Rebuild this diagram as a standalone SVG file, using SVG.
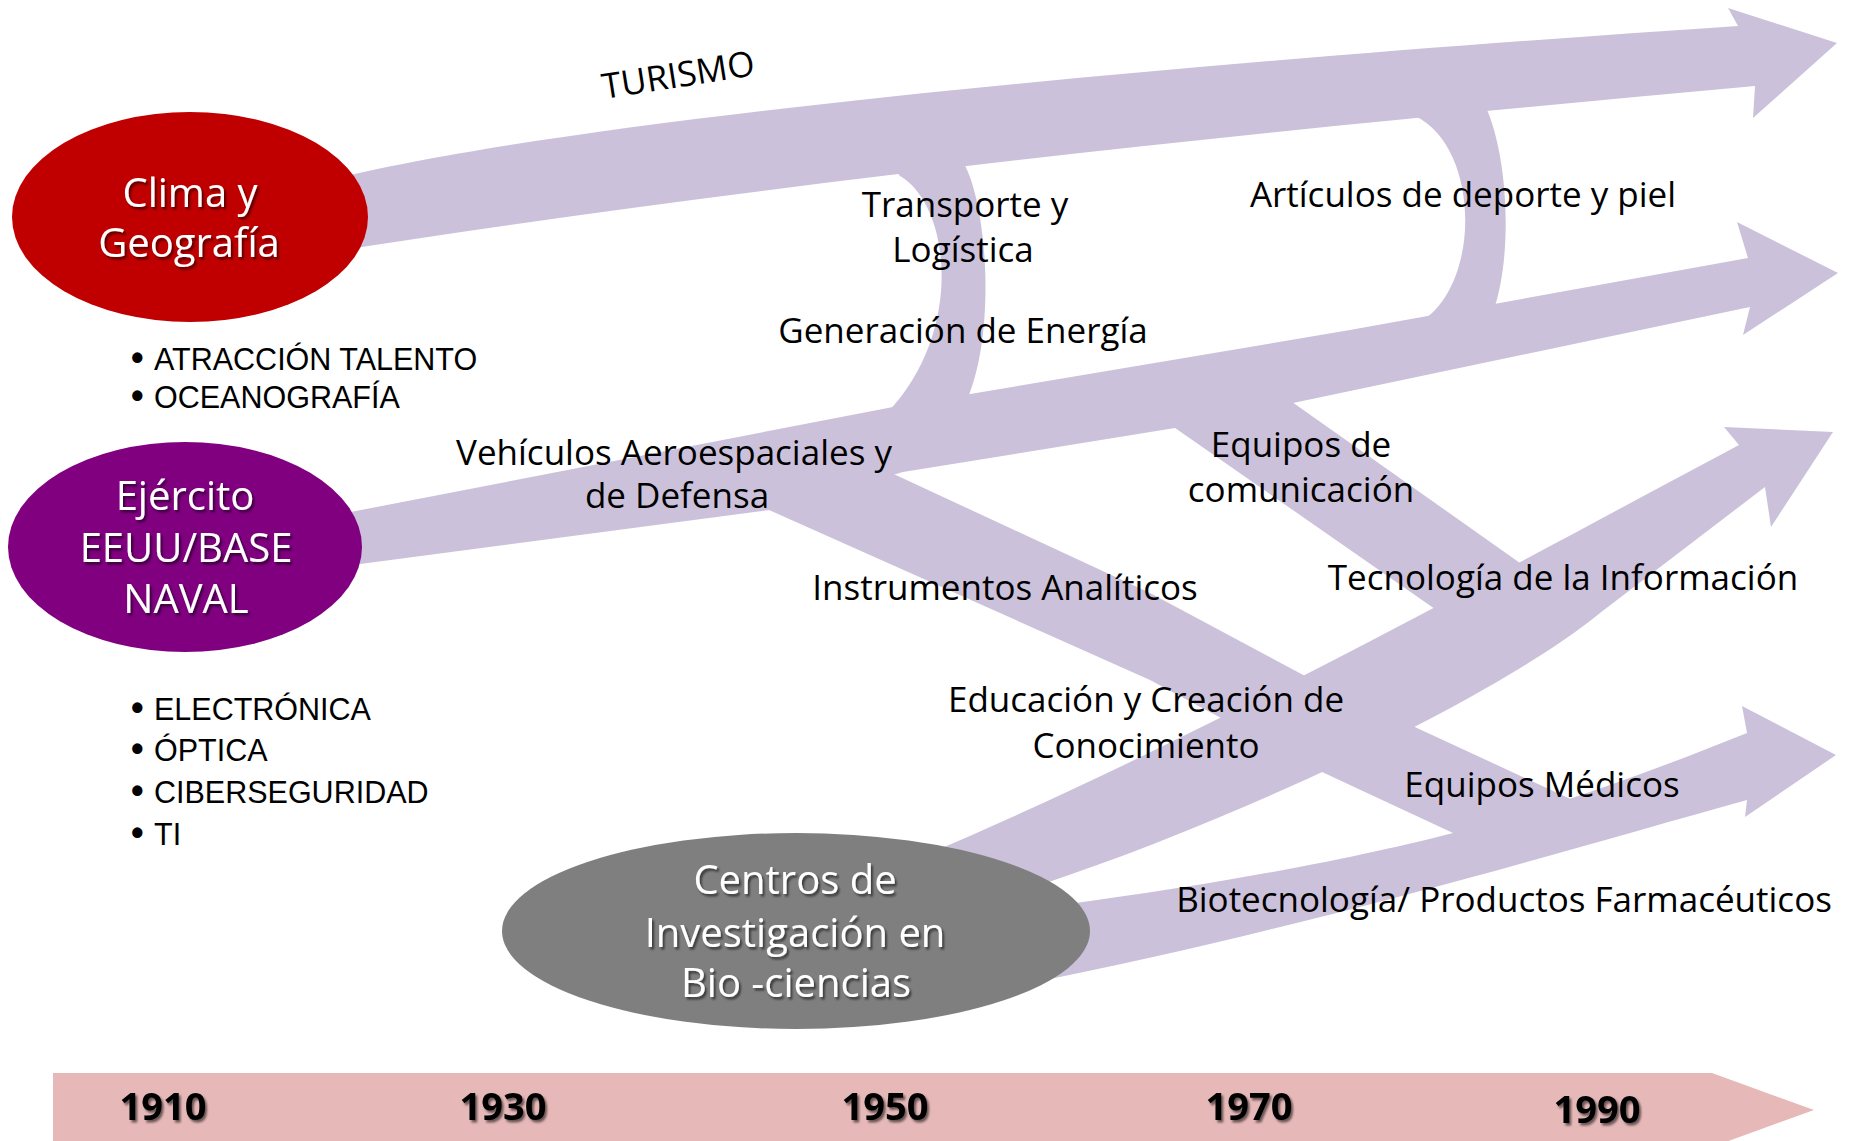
<svg xmlns="http://www.w3.org/2000/svg" width="1856" height="1141" viewBox="0 0 1856 1141">
  <defs>
    <filter id="sh" x="-10%" y="-20%" width="130%" height="150%">
      <feDropShadow dx="2" dy="2.5" stdDeviation="1.2" flood-color="#000" flood-opacity="0.55"/>
    </filter>
    <style>
      .band { fill: #CCC1DA; }
      .lbl { font-family: "Open Sans", "Liberation Sans", sans-serif; font-size: 35px; fill: #000; text-anchor: middle; }
      .bul { font-family: "Liberation Sans", Arial, sans-serif; font-size: 30.5px; fill: #000; }
      .dot { font-size: 36px; font-weight: bold; }
      .node { font-family: "Open Sans", "Liberation Sans", sans-serif; font-size: 40px; fill: #fff; text-anchor: middle; filter: url(#sh); }
      .yr { font-family: "Open Sans", "Liberation Sans", sans-serif; font-size: 38px; font-weight: bold; fill: #000; text-anchor: middle; filter: url(#sh); }
    </style>
  </defs>
  <rect width="1856" height="1141" fill="#fff"/>

  <g id="connectors">
    <path id="turismo" class="band" d="M 330,180 C 600,112 1300,55 1738,26 L 1728,8 L 1837,43 L 1753,118 L 1755,86 C 1300,127 800,178 330,252 Z"/>
    <path id="transporte" class="band" d="M 895,170 L 962,160 C 987,200 997,330 967,400 L 888,412 C 965,330 950,205 900,176 Z"/>
    <path id="articulos" class="band" d="M 1410,115 L 1485,105 C 1510,160 1512,260 1493,312 L 1415,325 C 1482,292 1482,148 1415,116 Z"/>
    <path id="energia" class="band" d="M 330,516 L 893,407 L 1350,330 L 1748,258 L 1737,222 L 1838,273 L 1743,335 L 1750,307 L 1293,403 L 1175,428 L 903,472 L 769,510 L 330,568 Z"/>
    <path id="instrumentos" class="band" d="M 760,500 L 885,470 L 1150,593 L 1307,677 L 1417,728 L 1577,802 L 1520,845 L 1453,833 L 1322,772 L 1150,680 L 769,510 Z"/>
    <path id="comunicacion" class="band" d="M 1165,421 L 1285,397 L 1530,570 L 1445,616 Z"/>
    <path id="tecnologia" class="band" d="M 925,855 C 1200,740 1550,545 1739,445 L 1724,427 L 1833,432 L 1771,527 L 1765,487 L 1600,613 C 1500,695 1250,815 1040,885 Z"/>
    <path id="biotec" class="band" d="M 1060,905 C 1250,880 1380,852 1453,833 C 1550,809 1660,768 1747,733 L 1742,706 L 1836,755 L 1745,817 L 1747,800 C 1550,855 1300,930 1020,985 Z"/>
  </g>

  <g id="timeline">
    <polygon points="53,1073 1712,1073 1814,1110 1712,1147 53,1147" fill="#E6B9B8"/>
    <text class="yr" x="163" y="1120">1910</text>
    <text class="yr" x="503" y="1120">1930</text>
    <text class="yr" x="885" y="1120">1950</text>
    <text class="yr" x="1249" y="1120">1970</text>
    <text class="yr" x="1597" y="1123">1990</text>
  </g>

  <g id="node-clima">
    <ellipse cx="190" cy="217" rx="178" ry="105" fill="#C00000"/>
    <text class="node" x="190" y="207">Clima y</text>
    <text class="node" x="189" y="257">Geografía</text>
  </g>
  <g id="node-ejercito">
    <ellipse cx="185" cy="547" rx="177" ry="105" fill="#800080"/>
    <text class="node" x="185" y="510">Ejército</text>
    <text class="node" x="186" y="562">EEUU/BASE</text>
    <text class="node" x="186" y="613">NAVAL</text>
  </g>
  <g id="node-centros">
    <ellipse cx="796" cy="931" rx="294" ry="98" fill="#7F7F7F"/>
    <text class="node" x="795" y="894">Centros de</text>
    <text class="node" x="795" y="947">Investigación en</text>
    <text class="node" x="796" y="997">Bio -ciencias</text>
  </g>

  <g id="bullets-clima">
    <text class="bul" y="370"><tspan class="dot" x="131">•</tspan><tspan x="154">ATRACCIÓN TALENTO</tspan></text>
    <text class="bul" y="408"><tspan class="dot" x="131">•</tspan><tspan x="154">OCEANOGRAFÍA</tspan></text>
  </g>
  <g id="bullets-ejercito">
    <text class="bul" y="720"><tspan class="dot" x="131">•</tspan><tspan x="154">ELECTRÓNICA</tspan></text>
    <text class="bul" y="761"><tspan class="dot" x="131">•</tspan><tspan x="154">ÓPTICA</tspan></text>
    <text class="bul" y="803"><tspan class="dot" x="131">•</tspan><tspan x="154">CIBERSEGURIDAD</tspan></text>
    <text class="bul" y="845"><tspan class="dot" x="131">•</tspan><tspan x="154">TI</tspan></text>
  </g>

  <g id="labels">
    <text class="lbl" transform="translate(680,87) rotate(-9)" style="font-size:35px">TURISMO</text>
    <text class="lbl" x="965" y="217">Transporte y</text>
    <text class="lbl" x="963" y="262">Logística</text>
    <text class="lbl" x="963" y="343">Generación de Energía</text>
    <text class="lbl" x="1463" y="207">Artículos de deporte y piel</text>
    <text class="lbl" x="674" y="465">Vehículos Aeroespaciales y</text>
    <text class="lbl" x="677" y="508">de Defensa</text>
    <text class="lbl" x="1005" y="600">Instrumentos Analíticos</text>
    <text class="lbl" x="1301" y="457">Equipos de</text>
    <text class="lbl" x="1301" y="502">comunicación</text>
    <text class="lbl" x="1563" y="590">Tecnología de la Información</text>
    <text class="lbl" x="1146" y="712">Educación y Creación de</text>
    <text class="lbl" x="1146" y="758">Conocimiento</text>
    <text class="lbl" x="1542" y="797">Equipos Médicos</text>
    <text class="lbl" x="1504" y="912">Biotecnología/ Productos Farmacéuticos</text>
  </g>
</svg>
